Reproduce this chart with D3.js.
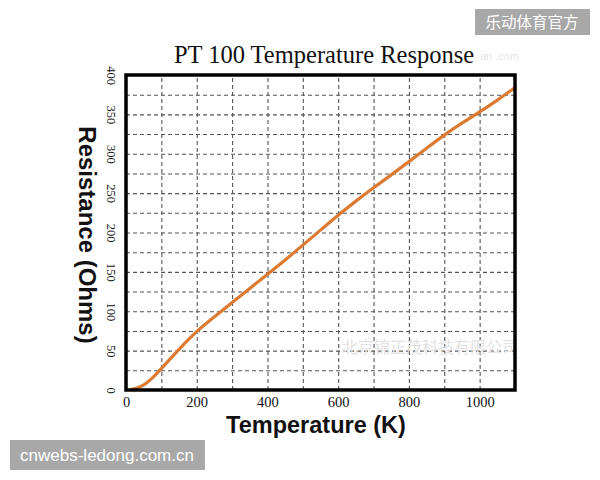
<!DOCTYPE html>
<html>
<head>
<meta charset="utf-8">
<script src="https://cdn.jsdelivr.net/npm/d3@7"></script>
<style>
  html, body { margin: 0; padding: 0; background: #fff; }
  svg { display: block; }
</style>
</head>
<body>
<div id="chart"></div>
<script>
// ---- data ----
const temperatureK = [16, 30, 50, 70, 100, 150, 200, 250, 300, 350, 400, 450, 500, 550, 600, 650, 700, 750, 800, 850, 900, 950, 1000, 1050, 1100];
const resistanceOhms = [1, 2, 6, 13, 27, 52, 75, 93, 111, 129, 147, 165, 184, 203, 222, 240, 257, 273, 290, 307, 324, 339, 353, 368, 384];
const xTickLabels = [0, 200, 400, 600, 800, 1000];
const yTickLabels = [0, 50, 100, 150, 200, 250, 300, 350, 400];
const xGrid = [100, 200, 300, 400, 500, 600, 700, 800, 900, 1000];
const yGrid = [25, 50, 75, 100, 125, 150, 175, 200, 225, 250, 275, 300, 325, 350, 375];
const titleText = "PT 100 Temperature Response";
const xTitle = "Temperature (K)";
const yTitle = "Resistance (Ohms)";

const W = 600, H = 480;
const pL = 126, pR = 515, pT = 75, pB = 390;

const svg = d3.select("#chart").append("svg").attr("width", W).attr("height", H);

const x = d3.scaleLinear().domain([0, 1100]).range([pL, pR]);
const y = d3.scaleLinear().domain([0, 400]).range([pB, pT]);

// grid via axes
svg.append("g")
  .attr("transform", `translate(0,${pB})`)
  .call(d3.axisBottom(x).tickValues(xGrid).tickSize(-(pB - pT)).tickFormat(""))
  .call(g => g.select(".domain").remove())
  .call(g => g.selectAll("line").attr("stroke", "#555").attr("stroke-width", 1.1).attr("stroke-dasharray", "4,3"));

svg.append("g")
  .attr("transform", `translate(${pL},0)`)
  .call(d3.axisLeft(y).tickValues(yGrid).tickSize(-(pR - pL)).tickFormat(""))
  .call(g => g.select(".domain").remove())
  .call(g => g.selectAll("line").attr("stroke", "#555").attr("stroke-width", 1.1).attr("stroke-dasharray", "4,3"));

// faint watermark
svg.append("text")
  .attr("x", 430).attr("y", 353)
  .attr("text-anchor", "middle")
  .attr("font-family", "Noto Sans CJK SC")
  .attr("font-size", 16)
  .attr("fill", "#e2e2e2")
  .text("北京锦正茂科技有限公司");
svg.append("text")
  .attr("x", 480).attr("y", 60)
  .attr("font-family", "Liberation Sans, Arial, sans-serif")
  .attr("font-size", 11)
  .attr("fill", "#e6e6e6")
  .text("an  .com");

// line
const pts = temperatureK.map((t, i) => [t, resistanceOhms[i]]);
svg.append("path")
  .datum(pts)
  .attr("fill", "none")
  .attr("stroke", "#dc7a32")
  .attr("stroke-width", 3.2)
  .attr("stroke-linecap", "round")
  .attr("d", d3.line().x(d => x(d[0])).y(d => y(d[1])).curve(d3.curveBasis));

// frame
svg.append("rect")
  .attr("x", pL).attr("y", pT)
  .attr("width", pR - pL).attr("height", pB - pT)
  .attr("fill", "none").attr("stroke", "#000").attr("stroke-width", 3.5);

// x tick labels
svg.append("g")
  .attr("transform", `translate(0,${pB})`)
  .call(d3.axisBottom(x).tickValues(xTickLabels).tickSize(0).tickPadding(7).tickFormat(d3.format("d")))
  .call(g => g.select(".domain").remove())
  .call(g => g.selectAll("text")
    .attr("font-family", "Liberation Serif, Times New Roman, serif")
    .attr("font-size", 14.5)
    .attr("fill", "#111")
    .attr("dy", "0.71em"));

// y tick labels (rotated clockwise)
svg.append("g")
  .attr("transform", `translate(${pL},0)`)
  .call(d3.axisLeft(y).tickValues(yTickLabels).tickSize(0).tickFormat(d3.format("d")))
  .call(g => g.select(".domain").remove())
  .call(g => g.selectAll(".tick text")
    .attr("x", null).attr("dy", null)
    .attr("text-anchor", "middle")
    .attr("transform", `translate(${107 - pL},0) rotate(90)`)
    .attr("font-family", "Liberation Serif, Times New Roman, serif")
    .attr("font-size", 12.5)
    .attr("fill", "#111"));

// title
svg.append("text")
  .attr("x", 324).attr("y", 63)
  .attr("text-anchor", "middle")
  .attr("font-family", "Liberation Serif, Times New Roman, serif")
  .attr("font-size", 24.5)
  .attr("fill", "#111")
  .text(titleText);

// axis titles
svg.append("text")
  .attr("x", 316).attr("y", 433)
  .attr("text-anchor", "middle")
  .attr("font-family", "Liberation Sans, Arial, sans-serif")
  .attr("font-weight", "bold")
  .attr("font-size", 23.5)
  .attr("fill", "#111")
  .text(xTitle);

svg.append("text")
  .attr("transform", "translate(79,235) rotate(90)")
  .attr("text-anchor", "middle")
  .attr("font-family", "Liberation Sans, Arial, sans-serif")
  .attr("font-weight", "bold")
  .attr("font-size", 24)
  .attr("fill", "#111")
  .text(yTitle);

// watermark boxes
svg.append("rect").attr("x", 475).attr("y", 9).attr("width", 115).attr("height", 26).attr("fill", "#a8a8a8");
svg.append("text")
  .attr("x", 532).attr("y", 28)
  .attr("text-anchor", "middle")
  .attr("font-family", "Noto Sans CJK SC")
  .attr("font-size", 15.5)
  .attr("fill", "#fff")
  .text("乐动体育官方");

svg.append("rect").attr("x", 10).attr("y", 440).attr("width", 195).attr("height", 30).attr("fill", "#a8a8a8");
svg.append("text")
  .attr("x", 107).attr("y", 461)
  .attr("text-anchor", "middle")
  .attr("font-family", "Liberation Sans, Arial, sans-serif")
  .attr("font-size", 17)
  .attr("fill", "#fff")
  .text("cnwebs-ledong.com.cn");
</script>
</body>
</html>
